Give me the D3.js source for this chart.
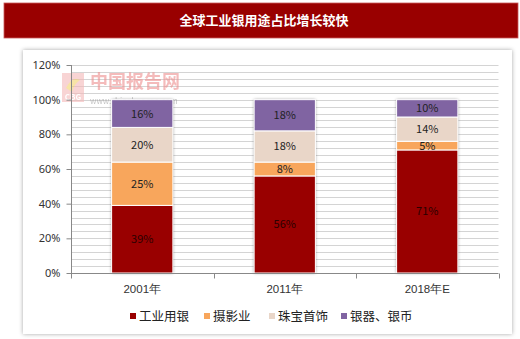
<!DOCTYPE html>
<html><head><meta charset="utf-8">
<script src="https://cdn.jsdelivr.net/npm/d3@7"></script>
<style>
html,body{margin:0;padding:0;background:#fff;}
svg{display:block;font-family:"Noto Sans CJK SC","Noto Sans",sans-serif;}
</style></head>
<body>
<svg id="c" width="520" height="339"></svg>
<script>
const title = "全球工业银用途占比增长较快";
const categories = ["2001年", "2011年", "2018年E"];
const seriesNames = ["工业用银", "摄影业", "珠宝首饰", "银器、银币"];
const industrial = [39, 56, 71];
const photography = [25, 8, 5];
const jewelry = [20, 18, 14];
const silverware = [16, 18, 10];
const yTicks = [0, 20, 40, 60, 80, 100, 120];
const colors = ["#990000", "#F8A65C", "#E9D6C8", "#8064A2"];

const svg = d3.select("#c");
const defs = svg.append("defs");
const f1 = defs.append("filter").attr("id","panelShadow").attr("x","-5%").attr("y","-5%").attr("width","110%").attr("height","110%");
f1.append("feDropShadow").attr("dx",0).attr("dy",0).attr("stdDeviation",2).attr("flood-color","#000").attr("flood-opacity",0.35);
const f2 = defs.append("filter").attr("id","barShadow").attr("x","-20%").attr("y","-5%").attr("width","140%").attr("height","110%");
f2.append("feDropShadow").attr("dx",0).attr("dy",0).attr("stdDeviation",1.6).attr("flood-color","#000").attr("flood-opacity",0.45);

// title bar
svg.append("rect").attr("x",4).attr("y",3).attr("width",514).attr("height",35)
  .attr("fill","#990000").attr("stroke","#c85a5a").attr("stroke-width",0.8);
svg.append("text").attr("x",264).attr("y",25).attr("text-anchor","middle")
  .attr("fill","#fff").attr("font-size",13).attr("font-weight","bold").text(title);

// panel
svg.append("rect").attr("x",23).attr("y",50).attr("width",489).attr("height",284)
  .attr("fill","#fff").attr("filter","url(#panelShadow)");

const pL = 71, pR = 498.5, pT = 65, pB = 273;
const x = d3.scaleBand().domain(categories).range([pL, pR]).paddingInner(0.57).paddingOuter(0.285);
const y = d3.scaleLinear().domain([0, 120]).range([pB, pT]);

// gridlines every 4%
const minor = d3.range(4, 121, 4);
svg.append("g").selectAll("line").data(minor).join("line")
  .attr("x1",pL).attr("x2",pR).attr("y1",d=>Math.round(y(d))+0.5).attr("y2",d=>Math.round(y(d))+0.5)
  .attr("stroke","#d4d4d4").attr("stroke-width",1);

// watermark
const wm = svg.append("g").attr("opacity",0.6);
wm.append("rect").attr("x",62).attr("y",73).attr("width",22).attr("height",29).attr("fill","#f4b8b8");
wm.append("path").attr("d","M66,88 Q72,76 80,80 Q74,84 72,92 Z").attr("fill","#f3d36b");
wm.append("text").attr("x",73).attr("y",100).attr("text-anchor","middle").attr("font-size",8).attr("font-weight","bold").attr("fill","#fff").text("CBG");
wm.append("text").attr("x",90).attr("y",88).attr("font-size",18).attr("font-weight","bold").attr("fill","#ee8f8f").text("中国报告网");
wm.append("text").attr("x",90).attr("y",104).attr("font-size",8).attr("fill","#9a9a9a").text("www.chinabaogao.com");

// stacked data
const rows = categories.map((c,i)=>({cat:c, s0:industrial[i], s1:photography[i], s2:jewelry[i], s3:silverware[i]}));
const stack = d3.stack().keys(["s0","s1","s2","s3"])(rows);

// bar shadows
svg.append("g").selectAll("rect").data(rows).join("rect")
  .attr("x",d=>x(d.cat)).attr("width",x.bandwidth())
  .attr("y",y(100)).attr("height",y(0)-y(100))
  .attr("fill","#fff").attr("filter","url(#barShadow)");

const g = svg.append("g");
stack.forEach((layer,li)=>{
  g.append("g").selectAll("rect").data(layer).join("rect")
    .attr("x",d=>x(d.data.cat)).attr("width",x.bandwidth())
    .attr("y",d=>y(d[1])).attr("height",d=>y(d[0])-y(d[1]))
    .attr("fill",colors[li]).attr("stroke","#fff").attr("stroke-width",1);
  g.append("g").selectAll("text").data(layer).join("text")
    .attr("x",d=>x(d.data.cat)+x.bandwidth()/2)
    .attr("y",d=>(y(d[0])+y(d[1]))/2+4)
    .attr("text-anchor","middle").attr("font-size",11)
    .attr("fill",li===0?"#2a0000":"#222")
    .text(d=>(d[1]-d[0])+"%");
});

// y axis
const ya = svg.append("g").attr("transform",`translate(${pL+0.5},0)`)
  .call(d3.axisLeft(y).tickValues(yTicks).tickFormat(d=>d+"%").tickSize(5).tickPadding(6));
ya.select(".domain").attr("stroke","#888").attr("d",`M-0,${pT}V${pB}`);
ya.selectAll(".tick line").attr("stroke","#888");
ya.selectAll("text").attr("font-size",11).attr("fill","#333").attr("font-family","'Noto Sans','Noto Sans CJK SC',sans-serif");

// x axis
const xa = svg.append("g").attr("transform",`translate(0,${pB+0.5})`)
  .call(d3.axisBottom(x).tickSize(0).tickPadding(11));
xa.select(".domain").attr("stroke","#888").attr("d",`M${pL},0H${pR}`);
xa.selectAll("text").attr("font-size",11.5).attr("fill","#333");
const sep = d3.range(0, categories.length+1).map(i=>pL + i*(pR-pL)/categories.length);
xa.append("g").selectAll("line").data(sep).join("line")
  .attr("x1",d=>Math.round(d)+0.5).attr("x2",d=>Math.round(d)+0.5).attr("y1",0).attr("y2",5)
  .attr("stroke","#888");

// legend
const legX = [130, 204, 269, 341];
const lg = svg.append("g");
seriesNames.forEach((n,i)=>{
  lg.append("rect").attr("x",legX[i]).attr("y",313).attr("width",6).attr("height",6).attr("fill",colors[i]);
  lg.append("text").attr("x",legX[i]+9).attr("y",321).attr("font-size",12.5).attr("fill","#222").text(n);
});
</script>
</body></html>
